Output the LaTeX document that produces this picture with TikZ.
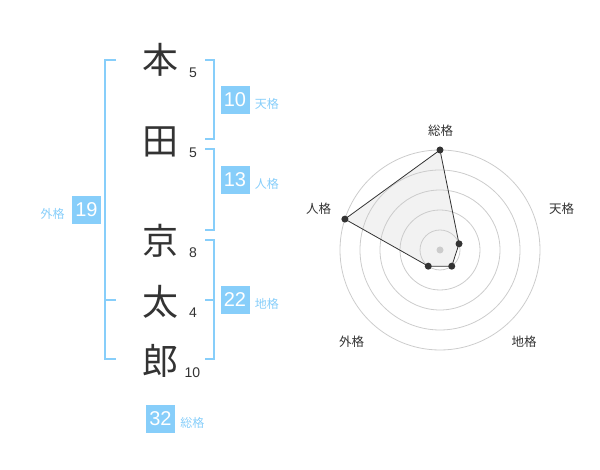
\documentclass[tikz,border=0pt]{standalone}
\usepackage{fontspec}
\usetikzlibrary{positioning,calc}
\setmainfont{Liberation Sans}
\newfontfamily\jp{Noto Sans CJK JP}
\definecolor{sky}{RGB}{135,206,250}
\definecolor{ink}{RGB}{51,51,51}
\definecolor{ring}{RGB}{204,204,204}
\tikzset{
	kanji/.style={font=\jp\fontsize{36}{36}\selectfont,text=ink,inner sep=0pt},
	strokes/.style={font=\fontsize{14}{14}\selectfont,text=ink,inner sep=0pt},
	bracket/.style={draw=sky,line width=1.8pt},
	scorebox/.style={fill=sky,text=white,minimum width=29pt,minimum height=28pt,inner sep=0pt,font=\fontsize{20}{20}\selectfont},
	scorelabel/.style={text=sky,font=\jp\fontsize{12}{12}\selectfont,inner sep=0pt,yshift=-4pt},
	axislabel/.style={text=ink,font=\jp\fontsize{12.5}{12.5}\selectfont,inner sep=0pt},
	dot/.style={fill=ink,radius=3.5pt}
}
\begin{document}
\begin{tikzpicture}[x=1pt,y=1pt]
	\useasboundingbox (0,0) rectangle (600,470);
	\node[kanji] (hon) at (160,410) {本};
	\node[kanji] (ta) at (160,328) {田};
	\node[kanji] (kyo) at (160,229) {京};
	\node[kanji] (futo) at (160,168) {太};
	\node[kanji] (ro) at (160,109) {郎};
	\node[strokes] (s1) at (193,397.5) {5};
	\node[strokes] (s2) at (193,317.5) {5};
	\node[strokes] (s3) at (193,217.5) {8};
	\node[strokes] (s4) at (193,157.5) {4};
	\node[strokes] (s5) at (192.5,97.5) {10};
	\draw[bracket] (205,410) -- (214,410) -- (214,330.7) -- (205,330.7);
	\draw[bracket] (205,320.7) -- (214,320.7) -- (214,240) -- (205,240);
	\draw[bracket] (205,230) -- (214,230) -- (214,110.7) -- (205,110.7);
	\draw[bracket] (205,170) -- (214,170);
	\draw[bracket] (116,410) -- (105,410) -- (105,110.7) -- (116,110.7);
	\draw[bracket] (105,170) -- (116,170);
	\node[scorebox] (ten) at (235,370) {10};
	\node[scorelabel,right=5pt of ten] (lbten) {天格};
	\node[scorebox] (jin) at (235,290) {13};
	\node[scorelabel,right=5pt of jin] (lbjin) {人格};
	\node[scorebox] (chi) at (235,170) {22};
	\node[scorelabel,right=5pt of chi] (lbchi) {地格};
	\node[scorebox] (gai) at (86.5,260) {19};
	\node[scorelabel,left=7pt of gai] (lbgai) {外格};
	\node[scorebox] (so) at (160.5,51) {32};
	\node[scorelabel,right=5pt of so] (lbso) {総格};
	\coordinate (c) at (440,220);
	\path ($(c)+(90:100)$) coordinate (p1) ($(c)+(18:20)$) coordinate (p2) ($(c)+(-54:20)$) coordinate (p3) ($(c)+(234:20)$) coordinate (p4) ($(c)+(162:100)$) coordinate (p5);
	\fill[gray!10] (p1) -- (p2) -- (p3) -- (p4) -- (p5) -- cycle;
	\foreach \r in {20,40,60,80,100}
		\draw[ring,line width=0.8pt] (c) circle (\r);
	\fill[ring] (c) circle (3.5pt);
	\draw[ink,line width=0.8pt] (p1) -- (p2) -- (p3) -- (p4) -- (p5) -- cycle;
	\foreach \p in {p1,p2,p3,p4,p5}
		\fill[dot] (\p) circle;
	\node[axislabel] (lso) at (440.5,339.5) {総格};
	\node[axislabel] (lten) at (561.5,261.5) {天格};
	\node[axislabel] (ljin) at (318.5,261.5) {人格};
	\node[axislabel] (lgai) at (351.5,128.5) {外格};
	\node[axislabel] (lchi) at (524,128.5) {地格};
\end{tikzpicture}
\end{document}
